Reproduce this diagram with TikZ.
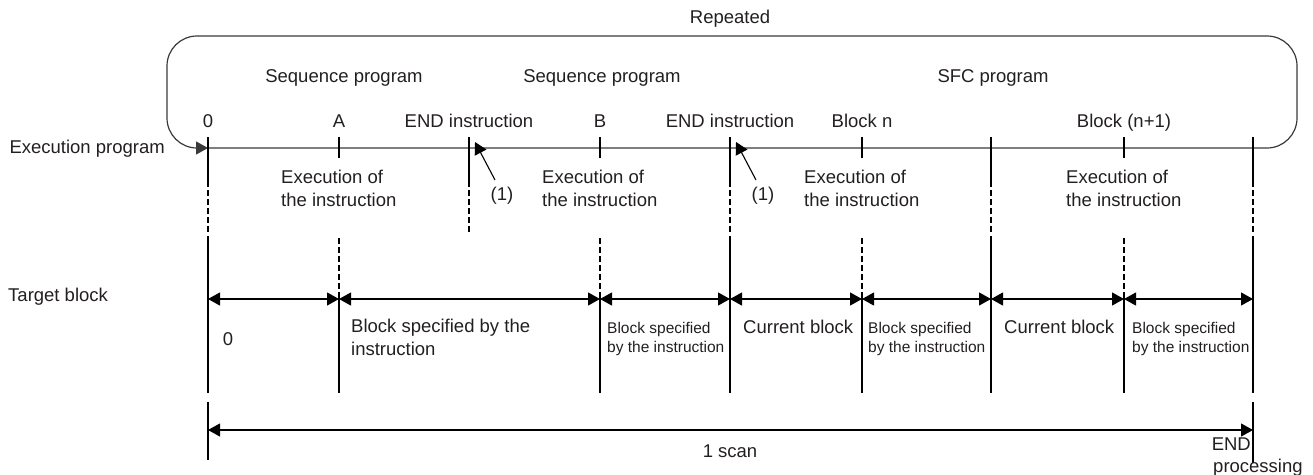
\documentclass[tikz,border=0pt]{standalone}
\usepackage{fontspec}
\setmainfont{Liberation Sans}
\usetikzlibrary{arrows.meta,calc}
\definecolor{ink}{HTML}{231F20}
\definecolor{loopc}{HTML}{3A3A3A}
\tikzset{
  lbl/.style={inner sep=0pt, anchor=base, font=\fontsize{18.5}{23}\selectfont, text=ink},
  lblw/.style={inner sep=0pt, anchor=north west, align=left, font=\fontsize{18.5}{23}\selectfont, text=ink},
  small/.style={inner sep=0pt, anchor=north west, align=left, font=\fontsize{15.5}{19}\selectfont, text=ink},
  vline/.style={line width=1.2pt, draw=black},
  dline/.style={line width=1.3pt, draw=black, dash pattern=on 6pt off 3pt},
  tipA/.tip={Triangle[length=12pt,width=13pt]},
  dim/.style={line width=1.1pt, draw=black, tipA-tipA},
}
\begin{document}
\begin{tikzpicture}[x=1pt,y=-1pt]
\useasboundingbox (0,0) rectangle (1313,474);

% positions on the main line
\coordinate (p0)  at (208,148);
\coordinate (pA)  at (339,148);
\coordinate (pE1) at (469,148);
\coordinate (pB)  at (600,148);
\coordinate (pE2) at (730,148);
\coordinate (pN)  at (862,148);
\coordinate (pM)  at (991,148);
\coordinate (pN1) at (1124,148);
\coordinate (pZ)  at (1253,148);

% repeat loop and main line
\draw[loopc, line width=1.2pt, rounded corners=30pt, -tipA]
  (p0) -- (1297,148) -- (1297,36) -- (167,36) -- (167,148) -- (p0);

% titles
\node[lbl] (rep) at (730,23) {Repeated};
\node[lbl] (seq1) at (344,82) {Sequence program};
\node[lbl] (seq2) at (602,82) {Sequence program};
\node[lbl] (sfc) at (993,82) {SFC program};

% row labels
\node[lbl] (l0)  at (208,127) {0};
\node[lbl] (lA)  at (339,127) {A};
\node[lbl] (lE1) at (469,127) {END instruction};
\node[lbl] (lB)  at (600,127) {B};
\node[lbl] (lE2) at (730,127) {END instruction};
\node[lbl] (lN)  at (862,127) {Block n};
\node[lbl] (lN1) at (1124,127) {Block (n+1)};

\node[lbl, anchor=base east] (exprog) at (165,153) {Execution program};
\node[lbl, anchor=base west] (tblock) at (8,301) {Target block};

% execution texts
\node[lblw] (exA)  at (281,169.5) {Execution of\\the instruction};
\node[lblw] (exB)  at (542,169.5) {Execution of\\the instruction};
\node[lblw] (exN)  at (804,169.5) {Execution of\\the instruction};
\node[lblw] (exN1) at (1066,169.5) {Execution of\\the instruction};

% (1) markers
\node[lbl] (one1) at (502,200) {(1)};
\node[lbl] (one2) at (763,200) {(1)};
\coordinate (t1) at (495,180);
\coordinate (h1) at (475,142);
\coordinate (t2) at (756,180);
\coordinate (h2) at (736,142);
\draw[line width=1.1pt, -tipA] (t1) -- (h1);
\draw[line width=1.1pt, -tipA] (t2) -- (h2);

% vertical lines: major
\foreach \p in {p0,pE2,pM,pZ}{
  \draw[vline] ($(\p)+(0,-11)$) -- ($(\p)+(0,39)$);
  \draw[dline] ($(\p)+(0,42)$) -- ($(\p)+(0,85)$);
  \draw[vline] ($(\p)+(0,88)$) -- ($(\p)+(0,245)$);
}
\draw[vline] ($(pE1)+(0,-11)$) -- ($(pE1)+(0,39)$);
\draw[dline] ($(pE1)+(0,42)$) -- ($(pE1)+(0,85)$);
% minor ticks
\foreach \p in {pA,pB,pN,pN1}{
  \draw[vline] ($(\p)+(0,-11)$) -- ($(\p)+(0,10)$);
  \draw[dline] ($(\p)+(0,90)$) -- ($(\p)+(0,150)$);
  \draw[vline] ($(\p)+(0,150)$) -- ($(\p)+(0,245)$);
}
% target block arrows
\coordinate (q0) at (208,299);
\coordinate (qA) at (339,299);
\coordinate (qB) at (600,299);
\coordinate (qE2) at (730,299);
\coordinate (qN) at (862,299);
\coordinate (qM) at (991,299);
\coordinate (qN1) at (1124,299);
\coordinate (qZ) at (1253,299);
\draw[dim] (q0) -- (qA);
\draw[dim] (qA) -- (qB);
\draw[dim] (qB) -- (qE2);
\draw[dim] (qE2) -- (qN);
\draw[dim] (qN) -- (qM);
\draw[dim] (qM) -- (qN1);
\draw[dim] (qN1) -- (qZ);

% block texts
\node[lbl] (b0) at (228,345) {0};
\node[lblw] (bA) at (351,318.5) {Block specified by the\\instruction};
\node[small] (bB) at (607,321.7) {Block specified\\by the instruction};
\node[lbl, anchor=base west] (cE2) at (743,333) {Current block};
\node[small] (bN) at (868,321.7) {Block specified\\by the instruction};
\node[lbl, anchor=base west] (cM) at (1004,333) {Current block};
\node[small] (bN1) at (1132,321.7) {Block specified\\by the instruction};

% 1 scan
\coordinate (s0a) at (208,402);
\coordinate (s0b) at (208,460);
\coordinate (sZa) at (1253,402);
\coordinate (sZb) at (1253,463);
\draw[vline] (s0a) -- (s0b);
\draw[vline] (sZa) -- (sZb);
\coordinate (s0) at (208,430);
\coordinate (sZ) at (1253,430);
\draw[dim] (s0) -- (sZ);
\node[lbl] (scan) at (730,457) {1 scan};
\node[lbl, anchor=base east] (endp) at (1251,450) {END};
\node[lbl, anchor=base west] (proc) at (1213,472) {processing};
\end{tikzpicture}
\end{document}
